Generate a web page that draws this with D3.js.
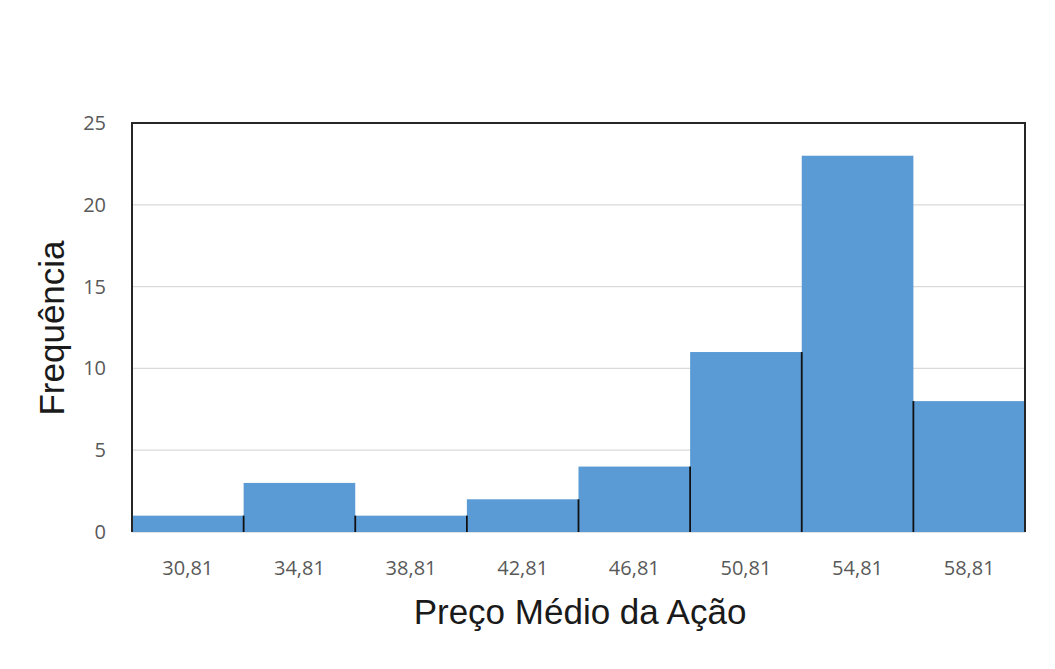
<!DOCTYPE html>
<html>
<head>
<meta charset="utf-8">
<script src="https://cdn.jsdelivr.net/npm/d3@7"></script>
<style>
  body { margin: 0; background: #fff; }
</style>
</head>
<body>
<script>
'use strict';

// histogram bins and counts
const binLabels = ["30,81", "34,81", "38,81", "42,81", "46,81", "50,81", "54,81", "58,81"];
const frequencies = [1, 3, 1, 2, 4, 11, 23, 8];
const yTicks = [0, 5, 10, 15, 20, 25];

const margin = {top: 123, right: 30, bottom: 137, left: 132};
const W = 1055, H = 669;
const width = W - margin.left - margin.right;
const height = H - margin.top - margin.bottom;

const svg = d3.select('body').append('svg')
  .attr('width', W)
  .attr('height', H);

const g = svg.append('g')
  .attr('transform', `translate(${margin.left},${margin.top})`);

const x = d3.scaleBand()
  .domain(binLabels)
  .range([0, width])
  .padding(0);

const y = d3.scaleLinear()
  .domain([0, 25])
  .range([height, 0]);

// gridlines
g.selectAll('.grid')
  .data(yTicks.filter(t => t > 0 && t < 25))
  .enter().append('line')
    .attr('x1', 0).attr('x2', width)
    .attr('y1', d => y(d)).attr('y2', d => y(d))
    .attr('stroke', '#d9d9d9')
    .attr('stroke-width', 1.3);

// bottom axis line
g.append('line')
  .attr('x1', 0).attr('x2', width)
  .attr('y1', y(0)).attr('y2', y(0))
  .attr('stroke', '#d9d9d9')
  .attr('stroke-width', 1.3);

// bars
g.selectAll('.bar')
  .data(frequencies)
  .enter().append('rect')
    .attr('x', (d, i) => x(binLabels[i]))
    .attr('y', d => y(d))
    .attr('width', x.bandwidth())
    .attr('height', d => y(0) - y(d))
    .attr('fill', '#5b9bd5');

// dark separators between bars (up to the lower neighbour)
const seps = d3.range(1, frequencies.length)
  .map(i => ({pos: x(binLabels[i]), v: Math.min(frequencies[i - 1], frequencies[i])}));
g.selectAll('.sep')
  .data(seps)
  .enter().append('line')
    .attr('x1', d => d.pos).attr('x2', d => d.pos)
    .attr('y1', y(0)).attr('y2', d => y(d.v))
    .attr('stroke', '#111')
    .attr('stroke-width', 1.8);

// plot frame: top, left, right
g.append('path')
  .attr('d', `M0,${y(0)}V0H${width}V${y(0)}`)
  .attr('fill', 'none')
  .attr('stroke', '#262626')
  .attr('stroke-width', 2);

// y tick labels
g.selectAll('.ytick')
  .data(yTicks)
  .enter().append('text')
    .attr('x', -26)
    .attr('y', d => y(d))
    .attr('dy', '0.35em')
    .attr('text-anchor', 'end')
    .attr('fill', '#595959')
    .style('font-family', '"Open Sans", sans-serif')
    .style('font-size', '20px')
    .text(d => d);

// x tick labels
g.selectAll('.xtick')
  .data(binLabels)
  .enter().append('text')
    .attr('x', d => x(d) + x.bandwidth() / 2)
    .attr('y', height + 36)
    .attr('dy', '0.35em')
    .attr('text-anchor', 'middle')
    .attr('fill', '#595959')
    .style('font-family', '"Open Sans", sans-serif')
    .style('font-size', '20px')
    .text(d => d);

// axis titles
svg.append('text')
  .attr('x', 580)
  .attr('y', 612)
  .attr('dy', '0.35em')
  .attr('text-anchor', 'middle')
  .attr('fill', '#1a1a1a')
  .style('font-family', '"Liberation Sans", Arial, sans-serif')
  .style('font-size', '35px')
  .text('Preço Médio da Ação');

svg.append('text')
  .attr('transform', 'translate(52, 328) rotate(-90)')
  .attr('dy', '0.35em')
  .attr('text-anchor', 'middle')
  .attr('fill', '#1a1a1a')
  .style('font-family', '"Liberation Sans", Arial, sans-serif')
  .style('font-size', '35px')
  .text('Frequência');
</script>
</body>
</html>
